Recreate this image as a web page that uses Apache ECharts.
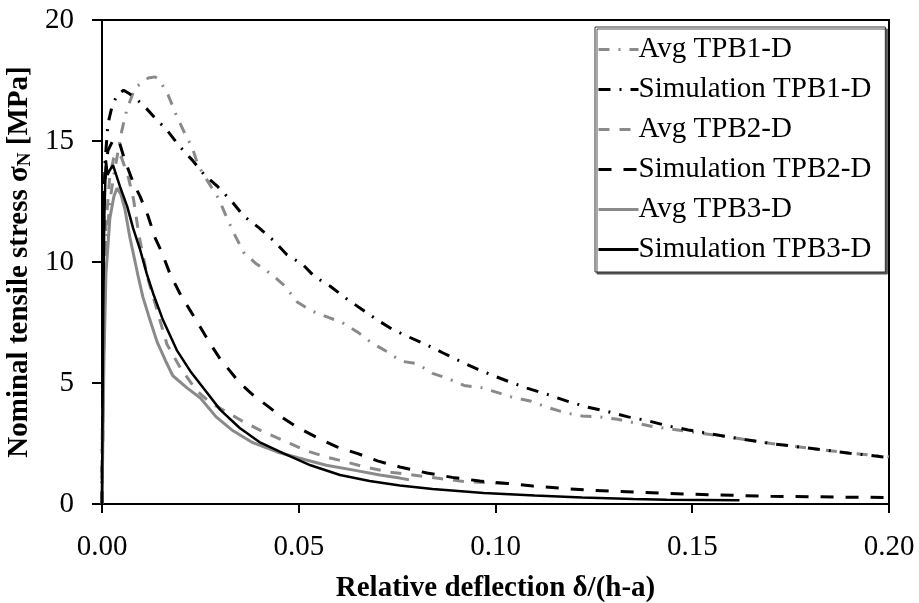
<!DOCTYPE html>
<html>
<head>
<meta charset="utf-8">
<script src="https://cdn.jsdelivr.net/npm/echarts@6/dist/echarts.min.js"></script>
<style>
  html, body { margin: 0; padding: 0; background: #fff; }
  #chart { width: 919px; height: 603px; }
</style>
</head>
<body>
<div id="chart"></div>
<script>
// Axis ticks
const xTicks = [0, 0.05, 0.10, 0.15, 0.20];
const yTicks = [0, 5, 10, 15, 20];

// Series names in legend order
const seriesNames = ['Avg TPB1-D', 'Simulation TPB1-D', 'Avg TPB2-D', 'Simulation TPB2-D', 'Avg TPB3-D', 'Simulation TPB3-D'];

// [relative deflection, nominal tensile stress (MPa)]
const avgTPB1 = [[0,0],[0.0005,7],[0.001,10.5],[0.002,12.5],[0.003,13.6],[0.004,14.5],[0.005,15.4],[0.0063,16.3],[0.0084,17.2],[0.0117,17.6],[0.0135,17.65],[0.0147,17.5],[0.0168,16.9],[0.0188,16.1],[0.0208,15.4],[0.023,14.7],[0.0244,14.0],[0.027,13.3],[0.0297,12.6],[0.0318,11.8],[0.0338,11.1],[0.036,10.4],[0.039,9.95],[0.043,9.5],[0.0465,9.0],[0.0496,8.35],[0.053,8.0],[0.0577,7.7],[0.061,7.5],[0.065,7.1],[0.0686,6.65],[0.0724,6.3],[0.076,5.9],[0.080,5.8],[0.084,5.4],[0.0877,5.2],[0.092,4.9],[0.0966,4.8],[0.1006,4.6],[0.1045,4.4],[0.1088,4.26],[0.113,4.0],[0.118,3.76],[0.122,3.64],[0.1266,3.6],[0.131,3.5],[0.1355,3.35],[0.14,3.2],[0.149,3.0],[0.16,2.75],[0.17,2.5],[0.18,2.3],[0.19,2.1],[0.2,1.95]];

const simTPB1 = [[0,0],[0.0004,12],[0.0008,14.2],[0.0015,15.7],[0.0025,16.4],[0.0038,16.9],[0.0055,17.1],[0.007,16.95],[0.0104,16.5],[0.0132,16.0],[0.0165,15.45],[0.0196,14.8],[0.023,14.2],[0.026,13.6],[0.0295,13.1],[0.033,12.5],[0.036,11.9],[0.04,11.4],[0.0435,10.9],[0.047,10.3],[0.051,9.9],[0.054,9.4],[0.058,9.0],[0.062,8.5],[0.066,8.05],[0.070,7.6],[0.074,7.2],[0.078,6.9],[0.0826,6.57],[0.0867,6.24],[0.091,5.9],[0.095,5.6],[0.099,5.33],[0.1037,5.04],[0.108,4.79],[0.113,4.54],[0.118,4.26],[0.1235,4.0],[0.128,3.84],[0.1337,3.6],[0.139,3.43],[0.144,3.22],[0.149,3.06],[0.16,2.75],[0.17,2.5],[0.18,2.3],[0.19,2.1],[0.2,1.92]];

const avgTPB2 = [[0,0],[0.0005,8],[0.001,11.5],[0.002,13.6],[0.003,14.3],[0.004,14.5],[0.005,14.3],[0.0067,13.5],[0.008,12.6],[0.0094,11.1],[0.0115,9.4],[0.014,8.0],[0.0165,6.6],[0.02,5.6],[0.024,4.7],[0.0274,4.2],[0.0317,3.8],[0.036,3.39],[0.041,2.98],[0.047,2.56],[0.052,2.2],[0.057,1.94],[0.062,1.74],[0.067,1.52],[0.073,1.32],[0.079,1.2],[0.085,1.07],[0.092,0.93],[0.098,0.88],[0.103,0.85]];

const simTPB2 = [[0,0],[0.0005,13],[0.0015,14.6],[0.003,15.1],[0.0045,14.9],[0.0058,14.2],[0.0079,13.3],[0.0097,12.7],[0.0117,11.9],[0.0135,11.0],[0.0152,10.4],[0.0173,9.5],[0.0198,8.7],[0.0224,8.0],[0.025,7.3],[0.0274,6.65],[0.030,6.0],[0.035,5.0],[0.0384,4.5],[0.0427,3.97],[0.046,3.55],[0.050,3.14],[0.0546,2.75],[0.0597,2.36],[0.065,2.08],[0.070,1.78],[0.0757,1.53],[0.0826,1.28],[0.089,1.1],[0.096,0.95],[0.103,0.85],[0.1095,0.74],[0.116,0.66],[0.123,0.58],[0.130,0.53],[0.137,0.48],[0.143,0.44],[0.149,0.41],[0.16,0.36],[0.17,0.32],[0.18,0.3],[0.19,0.28],[0.2,0.27]];

const avgTPB3 = [[0,0],[0.0005,6],[0.001,9.5],[0.002,11.8],[0.003,12.7],[0.0038,13.05],[0.0048,12.8],[0.0058,12.2],[0.0071,11.0],[0.0079,10.4],[0.0092,9.4],[0.0104,8.55],[0.0122,7.6],[0.014,6.7],[0.0162,5.9],[0.018,5.3],[0.0216,4.8],[0.025,4.38],[0.029,3.6],[0.033,3.06],[0.038,2.56],[0.0445,2.15],[0.050,1.9],[0.057,1.6],[0.064,1.4],[0.0706,1.2],[0.0757,1.07],[0.078,1.0]];

const simTPB3 = [[0,0],[0.0003,8],[0.0006,12],[0.001,14.2],[0.0014,13.6],[0.002,13.8],[0.0028,14.0],[0.0036,13.6],[0.0046,13.1],[0.0064,12.3],[0.0079,11.4],[0.0097,10.5],[0.0114,9.5],[0.013,8.7],[0.0155,7.6],[0.019,6.36],[0.0224,5.5],[0.0267,4.6],[0.030,3.9],[0.035,3.14],[0.040,2.56],[0.046,2.1],[0.053,1.6],[0.0605,1.2],[0.068,0.95],[0.0757,0.76],[0.084,0.62],[0.097,0.45],[0.11,0.35],[0.122,0.27],[0.135,0.21],[0.1435,0.18],[0.162,0.15]];

const seriesData = [avgTPB1, simTPB1, avgTPB2, simTPB2, avgTPB3, simTPB3];

// Line appearance per series
const GRAY = '#8a8a8a';
const BLACK = '#000000';
const styles = [
  { color: GRAY,  width: 3, type: [11, 9, 2, 9] },
  { color: BLACK, width: 3, type: [12, 9, 2, 9] },
  { color: GRAY,  width: 3, type: [11, 10] },
  { color: BLACK, width: 3, type: [13, 12] },
  { color: GRAY,  width: 3, type: 'solid' },
  { color: BLACK, width: 2.5, type: 'solid' }
];

const FONT = '"Liberation Serif", "Times New Roman", serif';

const chart = echarts.init(document.getElementById('chart'), null, { renderer: 'canvas' });

chart.setOption({
  animation: false,
  backgroundColor: '#fff',
  grid: {
    left: 102, right: 30, top: 20, bottom: 99,
    outerBoundsMode: 'none',
    show: true, borderColor: '#000', borderWidth: 2, backgroundColor: 'transparent'
  },
  legend: {
    orient: 'vertical',
    left: 595, top: 27,
    data: seriesNames,
    itemWidth: 40, itemHeight: 14, itemGap: 11,
    padding: [8, 14, 8, 2],
    backgroundColor: '#fff',
    borderColor: '#333', borderWidth: 1,
    shadowColor: '#555', shadowOffsetX: 2, shadowOffsetY: 2, shadowBlur: 0,
    itemStyle: { opacity: 0 },
    lineStyle: { width: 3 },
    textStyle: { fontFamily: FONT, fontSize: 29, color: '#000', padding: [0, 0, 0, -5] }
  },
  xAxis: {
    type: 'value',
    min: xTicks[0], max: xTicks[xTicks.length - 1], interval: 0.05,
    name: 'Relative deflection δ/(h-a)',
    nameLocation: 'middle', nameGap: 70,
    nameTextStyle: { fontFamily: FONT, fontSize: 29, fontWeight: 'bold', color: '#000' },
    axisLine: { show: true, onZero: false, lineStyle: { color: '#000', width: 2 } },
    axisTick: { show: true, inside: false, length: 9, lineStyle: { color: '#000', width: 2 } },
    axisLabel: { fontFamily: FONT, fontSize: 29, color: '#000', margin: 29,
      formatter: v => v.toFixed(2) },
    splitLine: { show: false }
  },
  yAxis: {
    type: 'value',
    min: yTicks[0], max: yTicks[yTicks.length - 1], interval: 5,
    name: '{a|Nominal tensile stress σ}{s|N}{a| [MPa]}',
    nameLocation: 'middle', nameGap: 60, nameRotate: 90,
    nameTextStyle: {
      fontFamily: FONT, fontSize: 29, fontWeight: 'bold', color: '#000',
      rich: {
        a: { fontFamily: FONT, fontSize: 29, fontWeight: 'bold', color: '#000', lineHeight: 29 },
        s: { fontFamily: FONT, fontSize: 19, fontWeight: 'bold', color: '#000', lineHeight: 14, verticalAlign: 'bottom' }
      }
    },
    axisLine: { show: true, lineStyle: { color: '#000', width: 2 } },
    axisTick: { show: true, inside: false, length: 10, lineStyle: { color: '#000', width: 2 } },
    axisLabel: { fontFamily: FONT, fontSize: 29, color: '#000', margin: 28 },
    splitLine: { show: false }
  },
  series: seriesNames.map((name, i) => ({
    name: name,
    type: 'line',
    data: seriesData[i],
    showSymbol: false,
    symbol: 'none',
    smooth: false,
    clip: true,
    color: styles[i].color,
    lineStyle: { color: styles[i].color, width: styles[i].width, type: styles[i].type, cap: 'butt' }
  }))
});
</script>
</body>
</html>
